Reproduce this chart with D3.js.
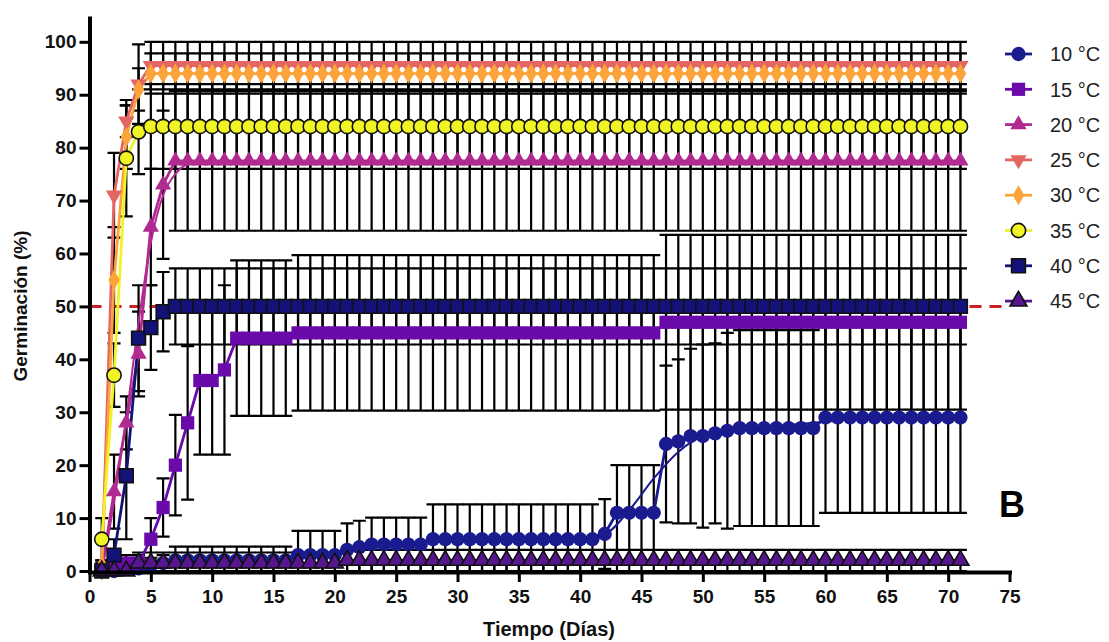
<!DOCTYPE html>
<html>
<head>
<meta charset="utf-8">
<script src="https://cdn.jsdelivr.net/npm/d3@7"></script>
<style>
  body { margin: 0; background: #fff; }
  text { font-family: "Liberation Sans", Arial, sans-serif; }
</style>
</head>
<body>
<svg id="chart" width="1109" height="642"></svg>
<script>
const days = d3.range(1, 72)
const xTicks = [0, 5, 10, 15, 20, 25, 30, 35, 40, 45, 50, 55, 60, 65, 70, 75]
const yTicks = [0, 10, 20, 30, 40, 50, 60, 70, 80, 90, 100]
const labels = ['10 °C', '15 °C', '20 °C', '25 °C', '30 °C', '35 °C', '40 °C', '45 °C']
const threshold = 50

// mean germination per day (days 1..71)
const mean10 = [
  0, 0, 0.5, 0.5, 1, 1.5, 2, 2, 2, 2,
  2, 2, 2, 2, 2, 2, 3, 3, 3, 3,
  4, 4.5, 5, 5, 5, 5, 5, 6, 6, 6,
  6, 6, 6, 6, 6, 6, 6, 6, 6, 6,
  6, 7, 11, 11, 11, 11, 24, 24.5, 25.5, 25.5,
  26, 26.5, 27, 27, 27, 27, 27, 27, 27, 29,
  29, 29, 29, 29, 29, 29, 29, 29, 29, 29,
  29]
const sd10 = [
  1.5, 1.5, 1.5, 1.5, 1.5, 1.5, 2.6, 2.6, 2.6, 2.6,
  2.6, 2.6, 2.6, 2.6, 2.6, 2.6, 4.6, 4.6, 4.6, 4.6,
  5, 5, 5.1, 5.1, 5.1, 5.1, 5.1, 6.6, 6.6, 6.6,
  6.6, 6.6, 6.6, 6.6, 6.6, 6.6, 6.6, 6.6, 6.6, 6.6,
  6.6, 6.6, 9, 9, 9, 9, 14.8, 15.5, 16.5, 17.3,
  17, 18.5, 18.5, 18.5, 18.5, 18.5, 18.5, 18.5, 18.5, 18,
  18, 18, 18, 18, 18, 18, 18, 18, 18, 18,
  18]

const mean15 = [
  0, 1, 1.5, 1.5, 6, 12, 20, 28, 36, 36,
  38, 44, 44, 44, 44, 44, 45, 45, 45, 45,
  45, 45, 45, 45, 45, 45, 45, 45, 45, 45,
  45, 45, 45, 45, 45, 45, 45, 45, 45, 45,
  45, 45, 45, 45, 45, 45, 47, 47, 47, 47,
  47, 47, 47, 47, 47, 47, 47, 47, 47, 47,
  47, 47, 47, 47, 47, 47, 47, 47, 47, 47,
  47]
const sd15 = [
  0.5, 1.5, 1.5, 1.5, 4, 5.5, 9.5, 14.5, 14, 14,
  16, 14.7, 14.7, 14.7, 14.7, 14.7, 14.7, 14.7, 14.7, 14.7,
  14.7, 14.7, 14.7, 14.7, 14.7, 14.7, 14.7, 14.7, 14.7, 14.7,
  14.7, 14.7, 14.7, 14.7, 14.7, 14.7, 14.7, 14.7, 14.7, 14.7,
  14.7, 14.7, 14.7, 14.7, 14.7, 14.7, 16.5, 16.5, 16.5, 16.5,
  16.5, 16.5, 16.5, 16.5, 16.5, 16.5, 16.5, 16.5, 16.5, 16.5,
  16.5, 16.5, 16.5, 16.5, 16.5, 16.5, 16.5, 16.5, 16.5, 16.5,
  16.5]

const mean20 = [
  0, 15, 28, 41, 65, 73, 77.5, 77.5, 77.5, 77.5,
  77.5, 77.5, 77.5, 77.5, 77.5, 77.5, 77.5, 77.5, 77.5, 77.5,
  77.5, 77.5, 77.5, 77.5, 77.5, 77.5, 77.5, 77.5, 77.5, 77.5,
  77.5, 77.5, 77.5, 77.5, 77.5, 77.5, 77.5, 77.5, 77.5, 77.5,
  77.5, 77.5, 77.5, 77.5, 77.5, 77.5, 77.5, 77.5, 77.5, 77.5,
  77.5, 77.5, 77.5, 77.5, 77.5, 77.5, 77.5, 77.5, 77.5, 77.5,
  77.5, 77.5, 77.5, 77.5, 77.5, 77.5, 77.5, 77.5, 77.5, 77.5,
  77.5]
const sd20 = [
  0.5, 7, 5, 8, 11, 14, 13.2, 13.2, 13.2, 13.2,
  13.2, 13.2, 13.2, 13.2, 13.2, 13.2, 13.2, 13.2, 13.2, 13.2,
  13.2, 13.2, 13.2, 13.2, 13.2, 13.2, 13.2, 13.2, 13.2, 13.2,
  13.2, 13.2, 13.2, 13.2, 13.2, 13.2, 13.2, 13.2, 13.2, 13.2,
  13.2, 13.2, 13.2, 13.2, 13.2, 13.2, 13.2, 13.2, 13.2, 13.2,
  13.2, 13.2, 13.2, 13.2, 13.2, 13.2, 13.2, 13.2, 13.2, 13.2,
  13.2, 13.2, 13.2, 13.2, 13.2, 13.2, 13.2, 13.2, 13.2, 13.2,
  13.2]

const mean25 = [
  0, 71, 85, 92, 95.5, 95.5, 95.5, 95.5, 95.5, 95.5,
  95.5, 95.5, 95.5, 95.5, 95.5, 95.5, 95.5, 95.5, 95.5, 95.5,
  95.5, 95.5, 95.5, 95.5, 95.5, 95.5, 95.5, 95.5, 95.5, 95.5,
  95.5, 95.5, 95.5, 95.5, 95.5, 95.5, 95.5, 95.5, 95.5, 95.5,
  95.5, 95.5, 95.5, 95.5, 95.5, 95.5, 95.5, 95.5, 95.5, 95.5,
  95.5, 95.5, 95.5, 95.5, 95.5, 95.5, 95.5, 95.5, 95.5, 95.5,
  95.5, 95.5, 95.5, 95.5, 95.5, 95.5, 95.5, 95.5, 95.5, 95.5,
  95.5]
const sd25 = [
  0.5, 8, 3, 7.5, 4.5, 4.5, 4.5, 4.5, 4.5, 4.5,
  4.5, 4.5, 4.5, 4.5, 4.5, 4.5, 4.5, 4.5, 4.5, 4.5,
  4.5, 4.5, 4.5, 4.5, 4.5, 4.5, 4.5, 4.5, 4.5, 4.5,
  4.5, 4.5, 4.5, 4.5, 4.5, 4.5, 4.5, 4.5, 4.5, 4.5,
  4.5, 4.5, 4.5, 4.5, 4.5, 4.5, 4.5, 4.5, 4.5, 4.5,
  4.5, 4.5, 4.5, 4.5, 4.5, 4.5, 4.5, 4.5, 4.5, 4.5,
  4.5, 4.5, 4.5, 4.5, 4.5, 4.5, 4.5, 4.5, 4.5, 4.5,
  4.5]

const mean30 = [
  1, 55, 82, 91, 94, 94, 94, 94, 94, 94,
  94, 94, 94, 94, 94, 94, 94, 94, 94, 94,
  94, 94, 94, 94, 94, 94, 94, 94, 94, 94,
  94, 94, 94, 94, 94, 94, 94, 94, 94, 94,
  94, 94, 94, 94, 94, 94, 94, 94, 94, 94,
  94, 94, 94, 94, 94, 94, 94, 94, 94, 94,
  94, 94, 94, 94, 94, 94, 94, 94, 94, 94,
  94]
const sd30 = [
  1, 10, 6, 4, 3.8, 3.8, 3.8, 3.8, 3.8, 3.8,
  3.8, 3.8, 3.8, 3.8, 3.8, 3.8, 3.8, 3.8, 3.8, 3.8,
  3.8, 3.8, 3.8, 3.8, 3.8, 3.8, 3.8, 3.8, 3.8, 3.8,
  3.8, 3.8, 3.8, 3.8, 3.8, 3.8, 3.8, 3.8, 3.8, 3.8,
  3.8, 3.8, 3.8, 3.8, 3.8, 3.8, 3.8, 3.8, 3.8, 3.8,
  3.8, 3.8, 3.8, 3.8, 3.8, 3.8, 3.8, 3.8, 3.8, 3.8,
  3.8, 3.8, 3.8, 3.8, 3.8, 3.8, 3.8, 3.8, 3.8, 3.8,
  3.8]

const mean35 = [
  6, 37, 78, 83, 84, 84, 84, 84, 84, 84,
  84, 84, 84, 84, 84, 84, 84, 84, 84, 84,
  84, 84, 84, 84, 84, 84, 84, 84, 84, 84,
  84, 84, 84, 84, 84, 84, 84, 84, 84, 84,
  84, 84, 84, 84, 84, 84, 84, 84, 84, 84,
  84, 84, 84, 84, 84, 84, 84, 84, 84, 84,
  84, 84, 84, 84, 84, 84, 84, 84, 84, 84,
  84]
const sd35 = [
  4, 6, 11, 8, 8, 8, 8, 8, 8, 8,
  8, 8, 8, 8, 8, 8, 8, 8, 8, 8,
  8, 8, 8, 8, 8, 8, 8, 8, 8, 8,
  8, 8, 8, 8, 8, 8, 8, 8, 8, 8,
  8, 8, 8, 8, 8, 8, 8, 8, 8, 8,
  8, 8, 8, 8, 8, 8, 8, 8, 8, 8,
  8, 8, 8, 8, 8, 8, 8, 8, 8, 8,
  8]

const mean40 = [
  0, 3, 18, 44, 46, 49, 50, 50, 50, 50,
  50, 50, 50, 50, 50, 50, 50, 50, 50, 50,
  50, 50, 50, 50, 50, 50, 50, 50, 50, 50,
  50, 50, 50, 50, 50, 50, 50, 50, 50, 50,
  50, 50, 50, 50, 50, 50, 50, 50, 50, 50,
  50, 50, 50, 50, 50, 50, 50, 50, 50, 50,
  50, 50, 50, 50, 50, 50, 50, 50, 50, 50,
  50]
const sd40 = [
  0.5, 3, 12, 10, 8, 7.5, 7.2, 7.2, 7.2, 7.2,
  7.2, 7.2, 7.2, 7.2, 7.2, 7.2, 7.2, 7.2, 7.2, 7.2,
  7.2, 7.2, 7.2, 7.2, 7.2, 7.2, 7.2, 7.2, 7.2, 7.2,
  7.2, 7.2, 7.2, 7.2, 7.2, 7.2, 7.2, 7.2, 7.2, 7.2,
  7.2, 7.2, 7.2, 7.2, 7.2, 7.2, 7.2, 7.2, 7.2, 7.2,
  7.2, 7.2, 7.2, 7.2, 7.2, 7.2, 7.2, 7.2, 7.2, 7.2,
  7.2, 7.2, 7.2, 7.2, 7.2, 7.2, 7.2, 7.2, 7.2, 7.2,
  7.2]

const mean45 = [
  0, 0, 0, 1.5, 1.5, 1.5, 1.5, 1.5, 1.5, 1.5,
  1.5, 1.5, 1.5, 1.5, 1.5, 1.5, 1.5, 1.5, 1.5, 1.5,
  2, 2, 2, 2, 2, 2, 2, 2, 2, 2,
  2, 2, 2, 2, 2, 2, 2, 2, 2, 2,
  2, 2, 2, 2, 2, 2, 2, 2, 2, 2,
  2, 2, 2, 2, 2, 2, 2, 2, 2, 2,
  2, 2, 2, 2, 2, 2, 2, 2, 2, 2,
  2]
const sd45 = [
  0, 0, 0, 2, 2, 2, 2, 2, 2, 2,
  2, 2, 2, 2, 2, 2, 2, 2, 2, 2,
  2, 2, 2, 2, 2, 2, 2, 2, 2, 2,
  2, 2, 2, 2, 2, 2, 2, 2, 2, 2,
  2, 2, 2, 2, 2, 2, 2, 2, 2, 2,
  2, 2, 2, 2, 2, 2, 2, 2, 2, 2,
  2, 2, 2, 2, 2, 2, 2, 2, 2, 2,
  2]

const fit10 = [[36, 6], [40, 6.3], [42, 7], [44, 11.5], [46, 17.5], [48, 22.5], [50, 25.5], [53, 26.8], [58, 27.8], [63, 28.7], [71, 29]]
const fit20 = [[1, 0], [2, 13], [3, 29], [4, 47], [5, 62], [6, 71], [7, 75], [8, 76.8], [10, 77.4], [71, 77.5]]

const series = [
  { label: labels[0], mean: mean10, sd: sd10, fit: fit10, color: '#1b1b90', shape: d3.symbolCircle, size: 160, stroke: null, rotate: 0 },
  { label: labels[1], mean: mean15, sd: sd15, fit: null, color: '#6a0aaa', shape: d3.symbolSquare, size: 175, stroke: null, rotate: 0 },
  { label: labels[2], mean: mean20, sd: sd20, fit: fit20, color: '#b12a90', shape: d3.symbolTriangle, size: 115, stroke: null, rotate: 0 },
  { label: labels[3], mean: mean25, sd: sd25, fit: null, color: '#e46662', shape: d3.symbolTriangle, size: 115, stroke: null, rotate: 180 },
  { label: labels[4], mean: mean30, sd: sd30, fit: null, color: '#fca33a', shape: d3.symbolDiamond, size: 115, stroke: null, rotate: 0 },
  { label: labels[5], mean: mean35, sd: sd35, fit: null, color: '#f0f424', shape: d3.symbolCircle, size: 160, stroke: '#111', rotate: 0 },
  { label: labels[6], mean: mean40, sd: sd40, fit: null, color: '#121278', shape: d3.symbolSquare, size: 190, stroke: '#111', rotate: 0 },
  { label: labels[7], mean: mean45, sd: sd45, fit: null, color: '#55168f', shape: d3.symbolTriangle, size: 125, stroke: '#111', rotate: 0 }
]

const svg = d3.select('#chart')
const x = d3.scaleLinear().domain([0, 75]).range([89.5, 1009.5])
const y = d3.scaleLinear().domain([0, 104.5]).range([571, 18])
const capHalf = 6.5

svg.append('rect').attr('width', 1109).attr('height', 642).attr('fill', '#fff')

// threshold line
svg.append('line')
  .attr('x1', x(0)).attr('x2', 1004)
  .attr('y1', y(threshold)).attr('y2', y(threshold))
  .attr('stroke', '#cc1f26')
  .attr('stroke-width', 3)
  .attr('stroke-dasharray', '12,8')

// error bars for every series first
const bars = svg.append('g').attr('stroke', '#000').attr('stroke-width', 2.2).attr('fill', 'none')
series.forEach(s => {
  const pts = days.map((d, i) => ({ day: d, lo: Math.max(0, s.mean[i] - s.sd[i]), hi: s.mean[i] + s.sd[i], sd: s.sd[i] }))
    .filter(p => p.sd > 0)
  const g = bars.append('g')
  g.selectAll('path')
    .data(pts)
    .enter()
    .append('path')
    .attr('d', p => {
      const cx = x(p.day)
      return `M${cx},${y(p.lo)}V${y(p.hi)}` +
        `M${cx - capHalf},${y(p.hi)}H${cx + capHalf}` +
        `M${cx - capHalf},${y(p.lo)}H${cx + capHalf}`
    })
})

// fitted curves and connecting lines
const fitLine = d3.line().x(d => x(d[0])).y(d => y(d[1])).curve(d3.curveMonotoneX)
const dataLine = d3.line().x((d, i) => x(days[i])).y(d => y(d))

series.forEach(s => {
  if (s.fit) {
    svg.append('path')
      .attr('d', fitLine(s.fit))
      .attr('fill', 'none')
      .attr('stroke', s.color)
      .attr('stroke-width', 2)
  }
  svg.append('path')
    .attr('d', dataLine(s.mean))
    .attr('fill', 'none')
    .attr('stroke', s.color)
    .attr('stroke-width', 2.8)
    .attr('stroke-linejoin', 'round')
})

// markers
series.forEach(s => {
  const sym = d3.symbol().type(s.shape).size(s.size)
  svg.append('g')
    .selectAll('path')
    .data(s.mean)
    .enter()
    .append('path')
    .attr('d', sym)
    .attr('transform', (d, i) => `translate(${x(days[i])},${y(d)}) rotate(${s.rotate})`)
    .attr('fill', s.color)
    .attr('stroke', s.stroke || 'none')
    .attr('stroke-width', 1.6)
})

// axes
const xAxis = d3.axisBottom(x).tickValues(xTicks).tickSize(10).tickPadding(8).tickSizeOuter(0)
const yAxis = d3.axisLeft(y).tickValues(yTicks).tickSize(10).tickPadding(3).tickSizeOuter(0)

const gx = svg.append('g').attr('transform', `translate(0,${y(0) + 1})`).call(xAxis)
const gy = svg.append('g').attr('transform', `translate(${x(0)},0)`).call(yAxis)

;[gx, gy].forEach(g => {
  g.select('.domain').attr('stroke', '#000').attr('stroke-width', 4).attr('stroke-linecap', 'square')
  g.selectAll('.tick line').attr('stroke', '#000').attr('stroke-width', 3)
  g.selectAll('.tick text')
    .attr('fill', '#111')
    .style('font-size', '19px')
    .style('font-weight', 'bold')
    .style('font-family', '"Liberation Sans", Arial, sans-serif')
})

svg.append('text')
  .attr('x', 549).attr('y', 636)
  .attr('text-anchor', 'middle')
  .style('font-size', '20px').style('font-weight', 'bold')
  .attr('fill', '#111')
  .text('Tiempo (Días)')

svg.append('text')
  .attr('transform', 'translate(27,306) rotate(-90)')
  .attr('text-anchor', 'middle')
  .style('font-size', '19px').style('font-weight', 'bold')
  .attr('fill', '#111')
  .text('Germinación (%)')

svg.append('text')
  .attr('x', 1012).attr('y', 517)
  .attr('text-anchor', 'middle')
  .style('font-size', '36px').style('font-weight', 'bold')
  .attr('fill', '#000')
  .text('B')

// legend
const legend = svg.append('g').attr('transform', 'translate(1005,54)')
const rows = legend.selectAll('g')
  .data(series)
  .enter()
  .append('g')
  .attr('transform', (d, i) => `translate(0,${i * 35.3})`)

rows.append('line')
  .attr('x1', 0).attr('x2', 27)
  .attr('stroke', d => d.color)
  .attr('stroke-width', 2.8)

rows.append('path')
  .attr('d', d => d3.symbol().type(d.shape).size(d.size)())
  .attr('transform', d => `translate(13.5,0) rotate(${d.rotate})`)
  .attr('fill', d => d.color)
  .attr('stroke', d => d.stroke || 'none')
  .attr('stroke-width', 1.6)

rows.append('text')
  .attr('x', 45).attr('dy', '0.36em')
  .style('font-size', '20px')
  .attr('fill', '#222')
  .text(d => d.label)
</script>
</body>
</html>
